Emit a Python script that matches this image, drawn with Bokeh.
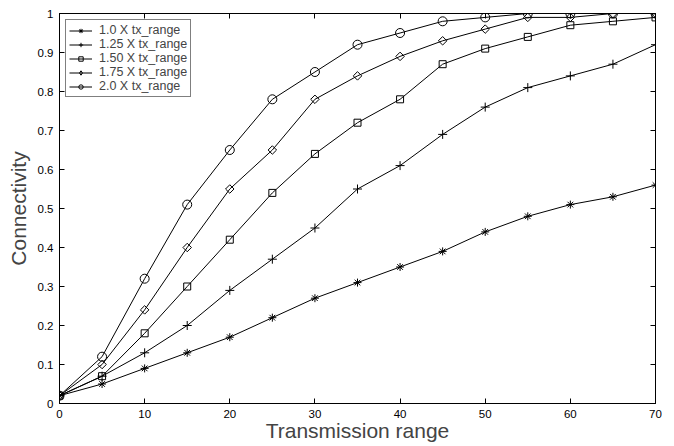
from bokeh.plotting import figure
from bokeh.models import LinearAxis, Range1d, FixedTicker, Legend, LegendItem, CustomLabelingPolicy
from bokeh.embed import file_html
from bokeh.resources import INLINE
import math

x = [0, 5, 10, 15, 20, 25, 30, 35, 40, 45, 50, 55, 60, 65, 70]
s_100 = [0.02, 0.05, 0.09, 0.13, 0.17, 0.22, 0.27, 0.31, 0.35, 0.39, 0.44, 0.48, 0.51, 0.53, 0.56]
s_125 = [0.02, 0.07, 0.13, 0.20, 0.29, 0.37, 0.45, 0.55, 0.61, 0.69, 0.76, 0.81, 0.84, 0.87, 0.92]
s_150 = [0.02, 0.07, 0.18, 0.30, 0.42, 0.54, 0.64, 0.72, 0.78, 0.87, 0.91, 0.94, 0.97, 0.98, 0.99]
s_175 = [0.02, 0.10, 0.24, 0.40, 0.55, 0.65, 0.78, 0.84, 0.89, 0.93, 0.96, 0.99, 0.99, 1.00, 1.00]
s_200 = [0.02, 0.12, 0.32, 0.51, 0.65, 0.78, 0.85, 0.92, 0.95, 0.98, 0.99, 1.00, 1.00, 1.00, 1.00]
labels = ["1.0 X tx_range", "1.25 X tx_range", "1.50 X tx_range", "1.75 X tx_range", "2.0 X tx_range"]
x_ticks = [0, 10, 20, 30, 40, 50, 60, 70]
y_ticks = [0, 0.1, 0.2, 0.3, 0.4, 0.5, 0.6, 0.7, 0.8, 0.9, 1.0]
y_tick_labels = ["0", "0.1", "0.2", "0.3", "0.4", "0.5", "0.6", "0.7", "0.8", "0.9", "1"]

# marker style per series: (plot marker, size, angle, legend marker)
marker_styles = [("asterisk", 8, 0.0, "asterisk"), ("cross", 9, 0.0, "cross"),
                 ("square", 7, 0.0, "square"), ("square", 6, math.pi / 4, "diamond"),
                 ("circle", 9, 0.0, "circle")]

FONT = "Liberation Sans"

p = figure(width=662, height=444, output_backend="svg", toolbar_location=None,
           x_range=Range1d(0, 70), y_range=Range1d(0, 1),
           min_border_left=59, min_border_right=7, min_border_top=13, min_border_bottom=35)
p.grid.visible = False
p.outline_line_color = "black"
p.outline_line_width = 1
p.background_fill_color = "white"
p.border_fill_color = "white"

def style_axis(ax):
    ax.major_tick_in = 5
    ax.major_tick_out = 0
    ax.minor_tick_in = 0
    ax.minor_tick_out = 0
    ax.axis_line_color = "black"
    ax.major_tick_line_color = "black"
    ax.major_label_text_font = FONT
    ax.major_label_text_font_size = "11.5px"
    ax.major_label_text_color = "black"

p.xaxis.ticker = FixedTicker(ticks=x_ticks)
p.yaxis.ticker = FixedTicker(ticks=y_ticks)
p.yaxis.major_label_overrides = {t: l for t, l in zip(y_ticks, y_tick_labels)}
style_axis(p.xaxis[0])
style_axis(p.yaxis[0])
p.xaxis.major_label_standoff = 6
p.yaxis.major_label_standoff = 6
p.xaxis.axis_label = "Transmission range"
p.yaxis.axis_label = "Connectivity"
p.xaxis.axis_label_text_font = FONT
p.yaxis.axis_label_text_font = FONT
p.xaxis.axis_label_text_font_style = "normal"
p.yaxis.axis_label_text_font_style = "normal"
p.xaxis.axis_label_text_font_size = "21px"
p.yaxis.axis_label_text_font_size = "21px"
p.xaxis.axis_label_standoff = -2
p.yaxis.axis_label_standoff = 5

hide_all = CustomLabelingPolicy(code="for (const i of indices) { indices.unset(i) }\nreturn indices")
top = LinearAxis(ticker=FixedTicker(ticks=x_ticks), major_label_policy=hide_all)
right = LinearAxis(ticker=FixedTicker(ticks=y_ticks), major_label_policy=hide_all)
style_axis(top)
style_axis(right)
for ax in (top, right):
    ax.major_label_standoff = 0
    ax.major_label_text_font_size = "1px"
p.add_layout(top, "above")
p.add_layout(right, "right")

items = []
for ys, lab, (m, sz, ang, lm) in zip([s_100, s_125, s_150, s_175, s_200], labels, marker_styles):
    r1 = p.line(x, ys, line_color="black", line_width=1)
    r2 = p.scatter(x, ys, marker=m, size=sz, angle=ang, line_color="black",
                   fill_color=None, line_width=1)
    if lm != m:
        r2 = p.scatter(x, ys, marker=lm, size=sz, line_color="black",
                       fill_color=None, line_width=1, visible=False)
    items.append(LegendItem(label=lab, renderers=[r1, r2]))

legend = Legend(items=items, location="top_left")
legend.label_text_font = FONT
legend.label_text_font_size = "12.5px"
legend.label_height = 11
legend.glyph_height = 11
legend.glyph_width = 23
legend.spacing = 0
legend.padding = 3
legend.margin = 6
legend.label_standoff = 7
legend.border_line_color = "black"
legend.border_line_width = 1
legend.background_fill_alpha = 1
p.add_layout(legend, "center")

open("out.html", "w").write(file_html(p, INLINE))
